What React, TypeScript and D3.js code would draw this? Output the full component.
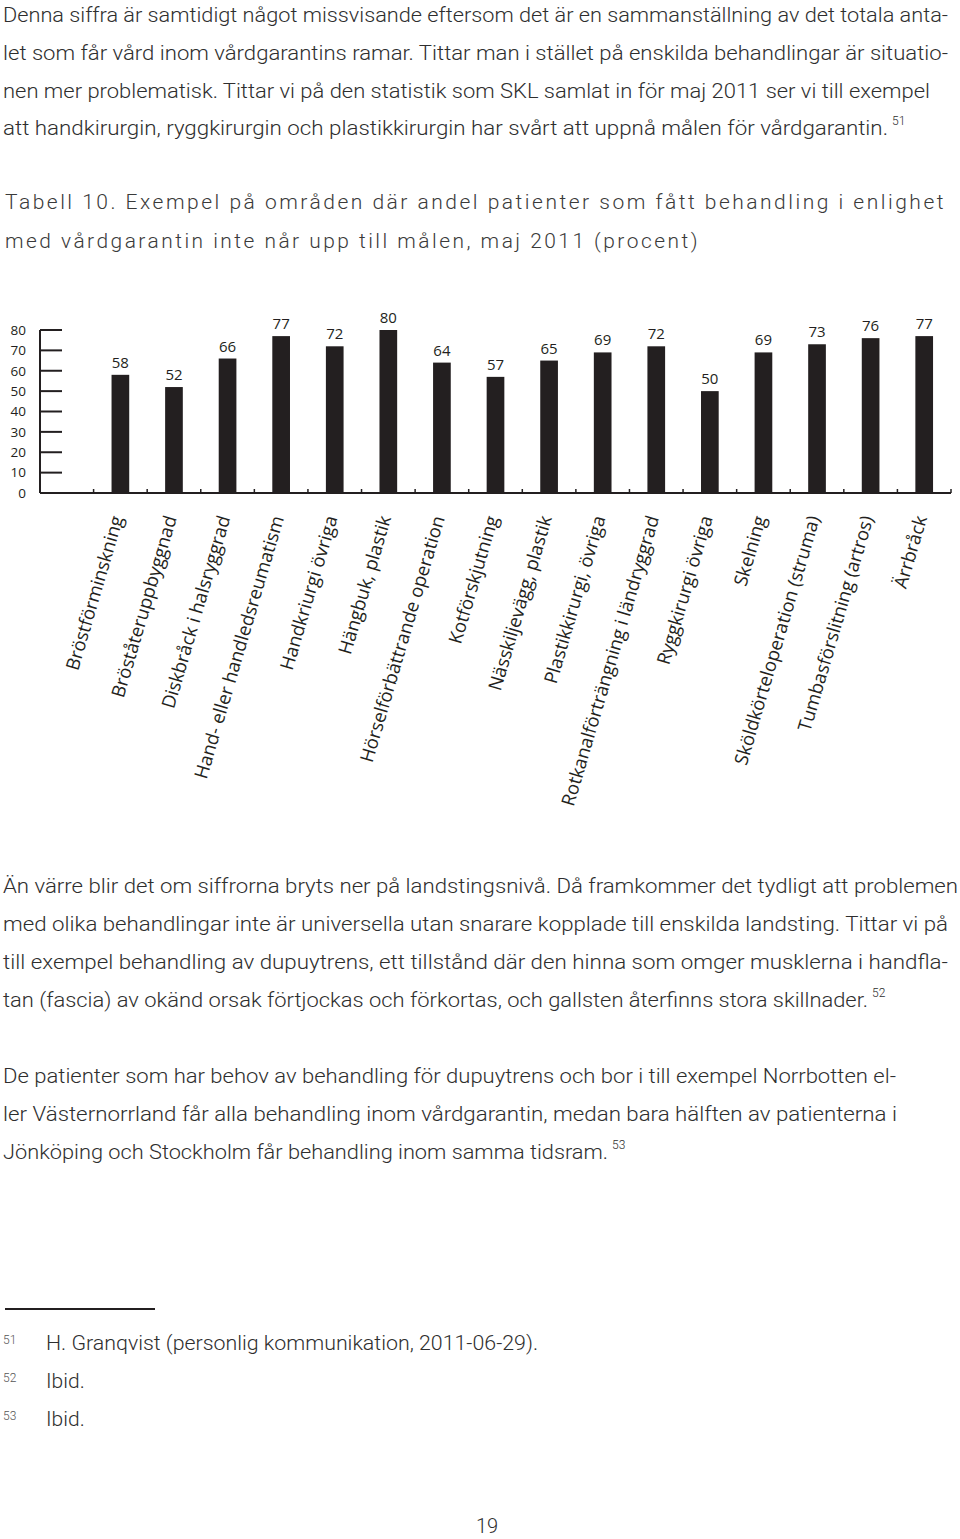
import React from "react";
import * as d3 from "d3";

const categories = [
  "Bröstförminskning",
  "Bröståteruppbyggnad",
  "Diskbråck i halsryggrad",
  "Hand- eller handledsreumatism",
  "Handkriurgi övriga",
  "Hängbuk, plastik",
  "Hörselförbättrande operation",
  "Kotförskjutning",
  "Nässkiljevägg, plastik",
  "Plastikkirurgi, övriga",
  "Rotkanalförträngning i ländryggrad",
  "Ryggkirurgi övriga",
  "Skelning",
  "Sköldkörteloperation (struma)",
  "Tumbasförslitning (artros)",
  "Ärrbråck",
];
const values = [58, 52, 66, 77, 72, 80, 64, 57, 65, 69, 72, 50, 69, 73, 76, 77];
const yTicks = [0, 10, 20, 30, 40, 50, 60, 70, 80];

const para1 = [
  "Denna siffra är samtidigt något missvisande eftersom det är en sammanställning av det totala anta-",
  "let som får vård inom vårdgarantins ramar. Tittar man i stället på enskilda behandlingar är situatio-",
  "nen mer problematisk. Tittar vi på den statistik som SKL samlat in för maj 2011 ser vi till exempel",
  "att handkirurgin, ryggkirurgin och plastikkirurgin har svårt att uppnå målen för vårdgarantin.",
];
const titleLines = [
  "Tabell 10. Exempel på områden där andel patienter som fått behandling i enlighet",
  "med vårdgarantin inte når upp till målen, maj 2011 (procent)",
];
const para2 = [
  "Än värre blir det om siffrorna bryts ner på landstingsnivå. Då framkommer det tydligt att problemen",
  "med olika behandlingar inte är universella utan snarare kopplade till enskilda landsting. Tittar vi på",
  "till exempel behandling av dupuytrens, ett tillstånd där den hinna som omger musklerna i handfla-",
  "tan (fascia) av okänd orsak förtjockas och förkortas, och gallsten återfinns stora skillnader.",
];
const para3 = [
  "De patienter som har behov av behandling för dupuytrens och bor i till exempel Norrbotten el-",
  "ler Västernorrland får alla behandling inom vårdgarantin, medan bara hälften av patienterna i",
  "Jönköping och Stockholm får behandling inom samma tidsram.",
];
const footnoteNums = ["51", "52", "53"];
const footnoteTexts = ["H. Granqvist (personlig kommunikation, 2011-06-29).", "Ibid.", "Ibid."];
const pageNumber = "19";

// layout (positions / widths measured from the page)
const p1Base = [22, 60, 98, 135];
const p1Width = [945, 945, 927, 885];
const titleBase = [209, 248];
const titleWidth = [941, 695];
const p2Base = [893, 931, 969, 1007];
const p2Width = [955, 945, 945, 865];
const p3Base = [1083, 1121, 1159];
const p3Width = [893, 894, 605];
const fnBase = [1350, 1388, 1426];
const fnWidth = [492, 0, 0];

const BODY_FONT = "Roboto, 'DejaVu Sans', sans-serif";
const CHART_FONT = "'Open Sans', 'Noto Sans', sans-serif";
const TEXT_COLOR = "#2e2e2e";
const INK = "#231f20";

function Lines({ lines, bases, widths, x = 3, size = 21, color = TEXT_COLOR, weight = 300, spacing = 0 }) {
  return (
    <g>
      {lines.map((t, i) => (
        <text
          key={i}
          x={x}
          y={bases[i]}
          fontFamily={BODY_FONT}
          fontWeight={weight}
          fontSize={size}
          fill={color}
          letterSpacing={spacing}
          {...(widths && widths[i] ? { textLength: widths[i], lengthAdjust: "spacingAndGlyphs" } : {})}
        >
          {t}
        </text>
      ))}
    </g>
  );
}

function Sup({ x, y, t }) {
  return (
    <text x={x} y={y} fontFamily={BODY_FONT} fontWeight={300} fontSize={12} fill={TEXT_COLOR}>
      {t}
    </text>
  );
}

export default function App() {
  const W = 960;
  const H = 1539;
  const x0 = 40;
  const x1 = 951;
  const yBase = 493;
  const domain = ["", ...categories];
  const x = d3.scaleBand<string>().domain(domain).range([x0, x1]).padding(0);
  const y = d3.scaleLinear().domain([0, 80]).range([yBase, 330]);
  const bw = x.bandwidth();
  const barW = bw * 0.33;
  const boundaries = d3.range(1, domain.length + 1).map((i) => x0 + i * x.step());

  return (
    <svg
      width={W}
      height={H}
      viewBox={`0 0 ${W} ${H}`}
      style={{ position: "absolute", left: 0, top: 0, display: "block", background: "#fff" }}
    >
      <rect x={0} y={0} width={W} height={H} fill="#fff" />
      <Lines lines={para1} bases={p1Base} widths={p1Width} />
      <Sup x={892} y={125} t="51" />

      <Lines lines={titleLines} bases={titleBase} widths={titleWidth} x={5} size={21} color="#3a3a3a" weight={300} spacing={2.5} />

      {/* chart */}
      <g>
        {/* y axis */}
        <line x1={x0} x2={x0} y1={y(80)} y2={yBase} stroke={INK} strokeWidth={2} />
        {yTicks.map((t) => (
          <g key={t}>
            <line x1={x0} x2={62} y1={y(t)} y2={y(t)} stroke={INK} strokeWidth={2} />
            <text x={26} y={y(t) + 4.8} textAnchor="end" fontFamily={CHART_FONT} fontSize={13.5} fill={INK}>
              {t}
            </text>
          </g>
        ))}
        {/* x axis */}
        <line x1={x0} x2={x1} y1={yBase} y2={yBase} stroke={INK} strokeWidth={2} />
        {boundaries.map((bx, i) => (
          <line key={i} x1={bx} x2={bx} y1={yBase} y2={yBase - 4} stroke={INK} strokeWidth={1.5} />
        ))}
        {/* bars */}
        {categories.map((c, i) => {
          const cx = (x(c) as number) + bw / 2;
          return (
            <g key={c}>
              <rect x={cx - barW / 2} y={y(values[i])} width={barW} height={yBase - y(values[i])} fill={INK} />
              <text
                x={cx}
                y={y(values[i]) - 7}
                textAnchor="middle"
                fontFamily={CHART_FONT}
                fontSize={15}
                fill={INK}
              >
                {values[i]}
              </text>
              <text
                transform={`translate(${cx + 3},${518}) rotate(-73.5)`}
                textAnchor="end"
                fontFamily={CHART_FONT}
                fontSize={18.5}
                fill={INK}
              >
                {c}
              </text>
            </g>
          );
        })}
      </g>

      <Lines lines={para2} bases={p2Base} widths={p2Width} />
      <Sup x={872} y={997} t="52" />
      <Lines lines={para3} bases={p3Base} widths={p3Width} />
      <Sup x={612} y={1149} t="53" />

      {/* footnotes */}
      <line x1={5} x2={155} y1={1309} y2={1309} stroke={INK} strokeWidth={2} />
      {footnoteNums.map((n, i) => (
        <text key={n} x={3} y={fnBase[i] - 6} fontFamily={BODY_FONT} fontWeight={300} fontSize={12} fill="#555">
          {n}
        </text>
      ))}
      <Lines lines={footnoteTexts} bases={fnBase} widths={fnWidth} x={46} />
      <text x={476} y={1533} fontFamily={BODY_FONT} fontWeight={300} fontSize={20} fill={TEXT_COLOR}>
        {pageNumber}
      </text>
    </svg>
  );
}
